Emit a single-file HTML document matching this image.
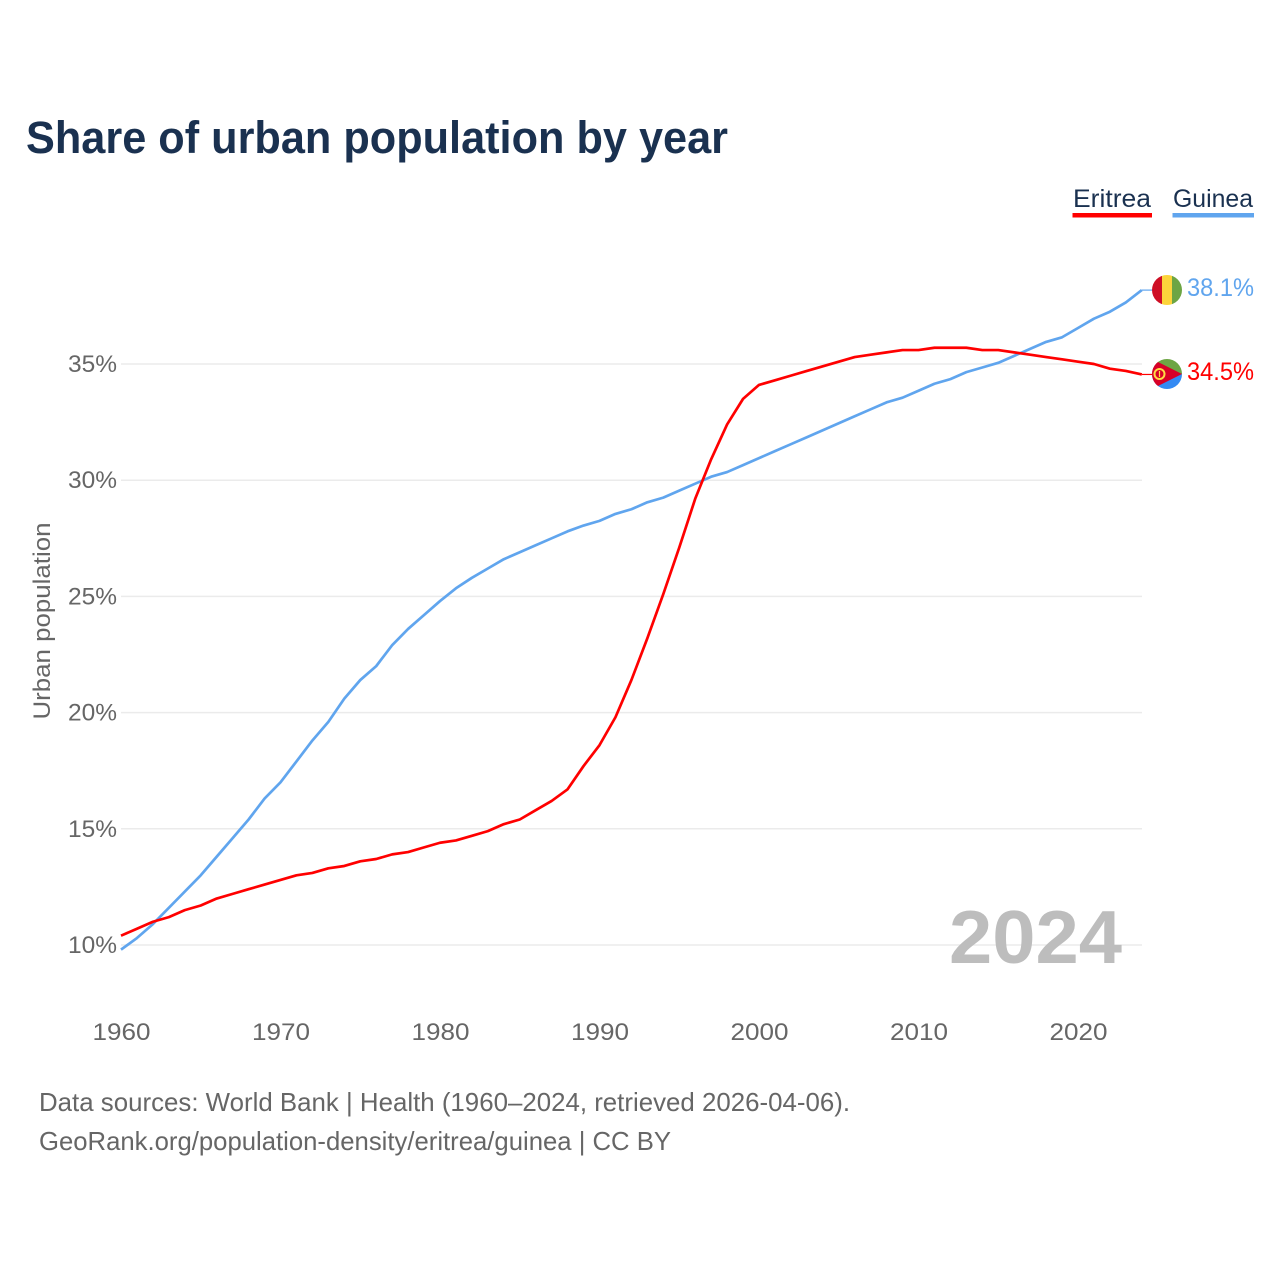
<!DOCTYPE html>
<html lang="en">
<head>
<meta charset="utf-8">
<title>Share of urban population by year</title>
<style>
html,body{margin:0;padding:0;background:#fff;width:1280px;height:1280px;overflow:hidden}
svg{display:block}
text{font-family:"Liberation Sans",sans-serif}
</style>
</head>
<body>
<svg id="chart" xmlns="http://www.w3.org/2000/svg" width="1280" height="1280" viewBox="0 0 1280 1280">
<text x="26" y="153" font-size="45" font-weight="700" fill="#1a3150" textLength="702" lengthAdjust="spacingAndGlyphs">Share of urban population by year</text>
<g id="grid"></g>
<g id="yticks"></g>
<g id="xticks"></g>
<text transform="translate(50,621) rotate(-90)" text-anchor="middle" font-size="24" fill="#666" textLength="197" lengthAdjust="spacingAndGlyphs">Urban population</text>
<text x="1122" y="963" text-anchor="end" font-size="75" font-weight="700" fill="#bdbdbd" textLength="173" lengthAdjust="spacingAndGlyphs">2024</text>
<g id="series"></g>

<g>
<text x="1073" y="207" font-size="25" fill="#1a3150" textLength="78" lengthAdjust="spacingAndGlyphs">Eritrea</text>
<rect x="1072.500" y="213" width="79.500" height="4.500" fill="#ff0000"/>
</g>
<g>
<text x="1173" y="207" font-size="25" fill="#1a3150" textLength="80" lengthAdjust="spacingAndGlyphs">Guinea</text>
<rect x="1172.500" y="213" width="81.500" height="4.500" fill="#60a5ee"/>
</g>

<defs>
<clipPath id="flag-clip-g"><circle cx="1167" cy="290" r="15"/></clipPath>
<clipPath id="flag-clip-e"><circle cx="1167" cy="374" r="15"/></clipPath>
</defs>
<g clip-path="url(#flag-clip-g)">
<rect x="1152" y="275" width="10" height="30" fill="#ce0f25"/>
<rect x="1162" y="275" width="10" height="30" fill="#fcd43b"/>
<rect x="1172" y="275" width="10" height="30" fill="#6da544"/>
</g>
<g clip-path="url(#flag-clip-e)">
<rect x="1152" y="359" width="30" height="15" fill="#6da544"/>
<rect x="1152" y="374" width="30" height="15" fill="#338af3"/>
<polygon points="1152,359 1182,374 1152,389" fill="#d80027"/>
<circle cx="1159.500" cy="374" r="5" fill="none" stroke="#ffda44" stroke-width="2"/>
<rect x="1158.900" y="371" width="1.200" height="6" fill="#ffda44"/>
</g>
<text x="1254" y="296" text-anchor="end" font-size="25" fill="#60a5ee" textLength="67" lengthAdjust="spacingAndGlyphs">38.1%</text>
<text x="1254" y="380" text-anchor="end" font-size="25" fill="#ff0000" textLength="67" lengthAdjust="spacingAndGlyphs">34.5%</text>

<text x="39" y="1111" font-size="26" fill="#666" textLength="811" lengthAdjust="spacingAndGlyphs">Data sources: World Bank | Health (1960–2024, retrieved 2026-04-06).</text>
<text x="39" y="1150" font-size="26" fill="#666" textLength="632" lengthAdjust="spacingAndGlyphs">GeoRank.org/population-density/eritrea/guinea | CC BY</text>
</svg>
<script>
const years = [1960,1961,1962,1963,1964,1965,1966,1967,1968,1969,1970,1971,1972,1973,1974,1975,1976,1977,1978,1979,1980,1981,1982,1983,1984,1985,1986,1987,1988,1989,1990,1991,1992,1993,1994,1995,1996,1997,1998,1999,2000,2001,2002,2003,2004,2005,2006,2007,2008,2009,2010,2011,2012,2013,2014,2015,2016,2017,2018,2019,2020,2021,2022,2023,2024];
const eritrea = [10.4,10.7,11.0,11.2,11.5,11.7,12.0,12.2,12.4,12.6,12.8,13.0,13.1,13.3,13.4,13.6,13.7,13.9,14.0,14.2,14.4,14.5,14.7,14.9,15.2,15.4,15.8,16.2,16.7,17.7,18.6,19.8,21.4,23.2,25.1,27.1,29.2,30.9,32.4,33.5,34.1,34.3,34.5,34.7,34.9,35.1,35.3,35.4,35.5,35.6,35.6,35.7,35.7,35.7,35.6,35.6,35.5,35.4,35.3,35.2,35.1,35.0,34.8,34.7,34.55];
const guinea = [9.8,10.3,10.9,11.6,12.3,13.0,13.8,14.6,15.4,16.3,17.0,17.9,18.8,19.6,20.6,21.4,22.0,22.9,23.6,24.2,24.8,25.35,25.8,26.2,26.6,26.9,27.2,27.5,27.8,28.05,28.25,28.55,28.75,29.05,29.25,29.55,29.85,30.15,30.35,30.65,30.95,31.25,31.55,31.85,32.15,32.45,32.75,33.05,33.35,33.55,33.85,34.15,34.35,34.65,34.85,35.05,35.35,35.65,35.95,36.15,36.55,36.95,37.25,37.65,38.18];
const yTickValues = [10,15,20,25,30,35];
const xTickValues = [1960,1970,1980,1990,2000,2010,2020];

const NS = 'http://www.w3.org/2000/svg';
const xScale = year => 121 + (year - 1960) * 15.95;
const yScale = value => 945 - (value - 10) * 23.24;

function make(tag, attrs, parent, content) {
  const el = document.createElementNS(NS, tag);
  for (const k in attrs) el.setAttribute(k, attrs[k]);
  if (content !== undefined) el.textContent = content;
  parent.appendChild(el);
  return el;
}

const gridGroup = document.getElementById('grid');
const yGroup = document.getElementById('yticks');
const xGroup = document.getElementById('xticks');
const seriesGroup = document.getElementById('series');

yTickValues.forEach(v => {
  const line = make('line', {x1: 121, x2: 1142, y1: yScale(v), y2: yScale(v), stroke: '#ebebeb', 'stroke-width': 1.5}, gridGroup);
  
  
  const label = make('text', {x: 117, y: yScale(v) + 8, 'text-anchor': 'end', 'font-size': 24, fill: '#666', textLength: 49, lengthAdjust: 'spacingAndGlyphs'}, yGroup, v + '%');
  
  
});

xTickValues.forEach(y => {
  const label = make('text', {x: xScale(y) + 0.5, y: 1040, 'text-anchor': 'middle', 'font-size': 24, fill: '#666', textLength: 58, lengthAdjust: 'spacingAndGlyphs'}, xGroup, String(y));
  
  
});

function drawSeries(values, color, name) {
  const d = values.map((v, i) => (i ? 'L' : 'M') + xScale(years[i]).toFixed(2) + ' ' + yScale(v).toFixed(2)).join(' ');
  const path = make('path', {d: d, fill: 'none', stroke: color, 'stroke-width': 2.7, 'stroke-linejoin': 'round'}, seriesGroup);
  
  
  const last = values.length - 1;
  const leader = make('line', {x1: xScale(years[last]), x2: 1153, y1: yScale(values[last]), y2: yScale(values[last]), stroke: color, 'stroke-width': 1.2}, seriesGroup);
  
  
}
drawSeries(guinea, '#60a5ee', 'guinea-line');
drawSeries(eritrea, '#ff0000', 'eritrea-line');
</script>
</body>
</html>
